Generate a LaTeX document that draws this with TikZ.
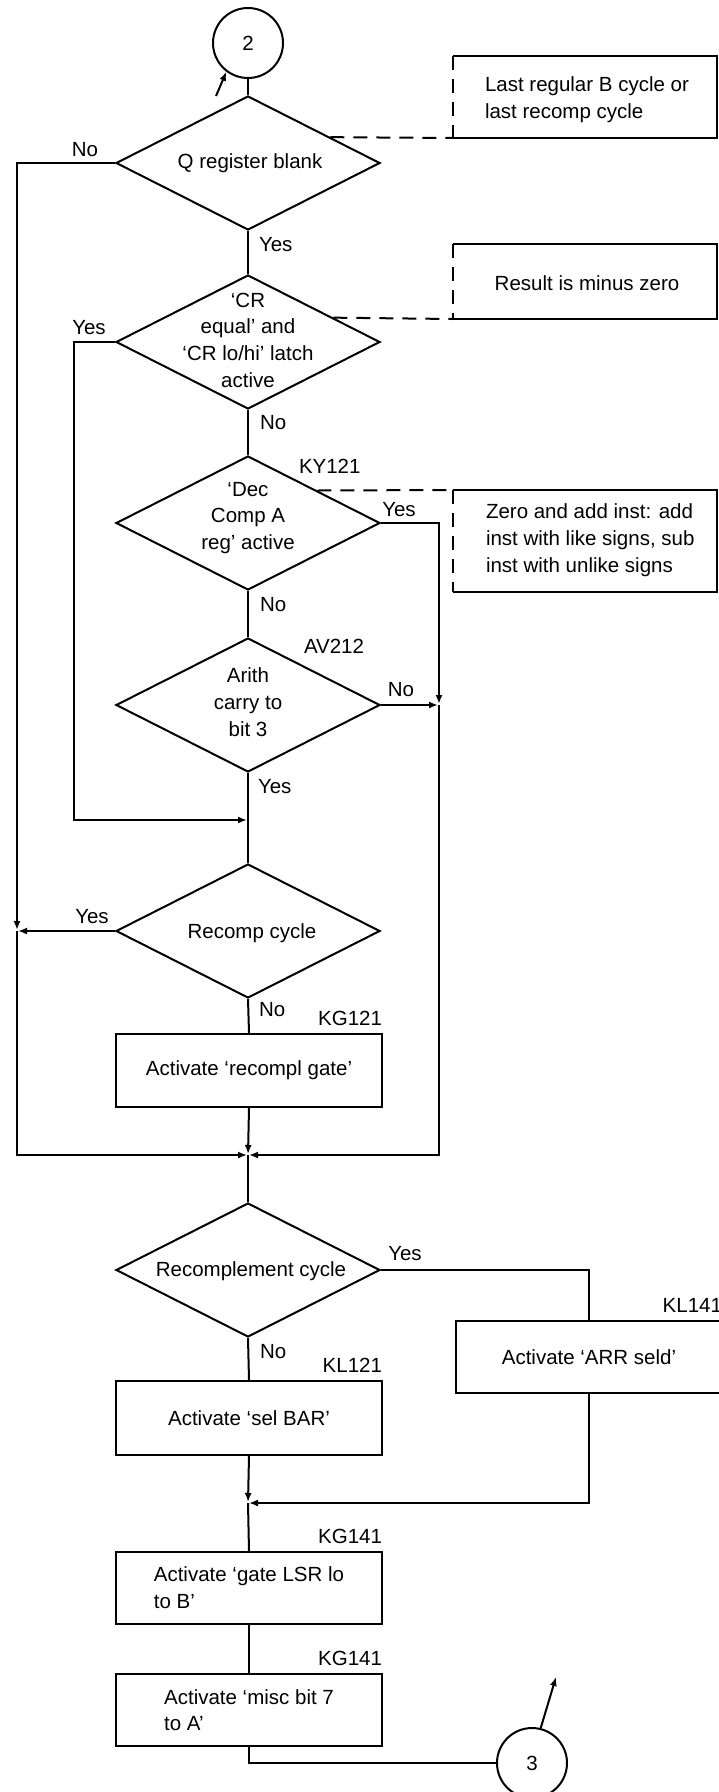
\documentclass[tikz,border=0pt]{standalone}
\usepackage{fontspec}
\setmainfont{Liberation Sans}
\usetikzlibrary{shapes.geometric,arrows.meta,calc}

\begin{document}
\begin{tikzpicture}[x=1pt,y=-1pt,
  line width=2pt,
  every node/.style={font=\fontsize{20.5}{26.7}\selectfont, inner sep=0pt},
  decision/.style={draw, diamond, minimum width=264pt, minimum height=134pt},
  process/.style={draw, rectangle, minimum width=266pt, minimum height=73pt, align=left},
  connector/.style={draw, circle, minimum size=70pt},
  note/.style={rectangle, minimum width=262pt},
  notedash/.style={dash pattern=on 14pt off 9pt},
  flow/.style={-{Latex[length=9pt,width=7pt]}, shorten >=1pt},
  tag/.style={anchor=west},
  ref/.style={anchor=base east, yshift=8pt}
]
\useasboundingbox (0,0) rectangle (719,1792);
\clip (0,0) rectangle (719,1792);

% ---- entry connector and first decision
\node[connector] (c2) at (248,43) {2};
\coordinate (in2) at (216,96);
\node[decision] (q) at (248,163) {};
\node (qt) at (250,163) {Q register blank};

% ---- annotation frames (left side dashed)
\node[note, minimum height=80pt] (n1) at (585,97) {};
\node[align=left, anchor=west] (n1t) at (484,100) {Last regular B cycle or\\last recomp cycle};
\node[note, minimum height=73pt] (n2) at (585,281.5) {};
\node (n2t) at (587,283) {Result is minus zero};
\node[note, minimum height=100pt] (n3) at (585,541) {};
\node[align=left, anchor=west] (n3t) at (485,540) {Zero and add inst: add\\inst with like signs, sub\\inst with unlike signs};

\foreach \n in {n1,n2,n3} {
  \draw (\n.south west) -- (\n.south east) -- (\n.north east) -- (\n.north west);
  \draw[notedash] (\n.north west) -- (\n.south west);
}

% ---- decisions
\node[decision] (cr) at (248,342) {};
\node[align=center] (crt) at (248,340) {‘CR\\equal’ and\\‘CR lo/hi’ latch\\active};
\node[decision] (dec) at (248,523) {};
\node[align=center] (dect) at (248,518) {‘Dec\\Comp A\\reg’ active};
\node[tag] (ky) at (298,466) {KY121};
\node[decision] (ar) at (248,705) {};
\node[align=center] (art) at (248,702) {Arith\\carry to\\bit 3};
\node[tag] (av) at (303,646) {AV212};
\node[decision] (rc) at (248,931) {};
\node (rct) at (252,933) {Recomp cycle};

% ---- first process box
\node[process] (rg) at (249,1070.5) {Activate ‘recompl gate’};
\node[ref] (kg1) at (rg.north east) {KG121};

% ---- second decision block
\node[decision] (rcm) at (248,1270) {};
\node (rcmt) at (251,1271) {Recomplement cycle};
\node[process, minimum height=74pt] (sb) at (249,1418) {Activate ‘sel BAR’};
\node[ref] (kl1) at (sb.north east) {KL121};
\node[process, minimum height=72pt] (arr) at (589,1357) {Activate ‘ARR seld’};
\node[ref] (kl2) at (arr.north east) {KL141};
\node[process, minimum height=72pt] (lsr) at (249,1588) {Activate ‘gate LSR lo\\to B’};
\node[ref] (kg2) at (lsr.north east) {KG141};
\node[process, minimum height=72pt] (misc) at (249,1710) {Activate ‘misc bit 7\\to A’};
\node[ref] (kg3) at (misc.north east) {KG141};
\node[connector] (c3) at (532,1763) {3};
\coordinate (out3) at (556,1677);

% ---- junction points
\coordinate (jl) at (17,931);
\coordinate (jc) at (248,820);
\coordinate (jr) at (439,705);
\coordinate (jm) at (248,1155);
\coordinate (jb) at (248,1503);

% ---- branch labels
\node[tag] (l1) at (258,245) {Yes};
\node (l2) at (85,150) {No};
\node (l3) at (89,328) {Yes};
\node[tag] (l4) at (259,423) {No};
\node (l5) at (399,510) {Yes};
\node[tag] (l6) at (259,605) {No};
\node (l7) at (401,690) {No};
\node[tag] (l8) at (257,787) {Yes};
\node (l9) at (92,917) {Yes};
\node[tag] (l10) at (258,1010) {No};
\node (l11) at (405,1254) {Yes};
\node[tag] (l12) at (259,1352) {No};

% ---- connectors
\draw[flow, shorten >=0pt] (in2) -- (c2.233);
\draw (c2.south) -- (q.north);
\draw (q.south) -- (cr.north);
\draw[flow] (q.west) -| (jl);
\draw[flow] (rc.west) -- (jl);
\draw[flow] (jl) |- (jm);
\draw (cr.south) -- (dec.north);
\draw[flow] (cr.west) -- ++(-41,0) |- (jc);
\draw (dec.south) -- (ar.north);
\draw[flow] (dec.east) -| (jr);
\draw[flow] (ar.east) -- (jr);
\draw (ar.south) -- (rc.north);
\draw (rc.south) -- (rg.north);
\draw[flow] (rg.south) -- (jm);
\draw[flow] (jr) |- (jm);
\draw (jm) -- (rcm.north);
\draw (rcm.east) -| (arr.north);
\draw (rcm.south) -- (sb.north);
\draw[flow] (sb.south) -- (jb);
\draw[flow] (arr.south) |- (jb);
\draw (jb) -- (lsr.north);
\draw (lsr.south) -- (misc.north);
\draw (misc.south) |- (c3.west);
\draw[flow, shorten >=0pt] (c3.76) -- (out3);

% ---- dashed leaders to the annotations
\draw[notedash] ($(q.north)!0.62!(q.east)$) -- (n1.south west);
\draw[notedash] ($(cr.north)!0.642!(cr.east)$) -- (n2.south west);
\draw[notedash] ($(dec.north)!0.522!(dec.east)$) -- (n3.north west);
\end{tikzpicture}
\end{document}
